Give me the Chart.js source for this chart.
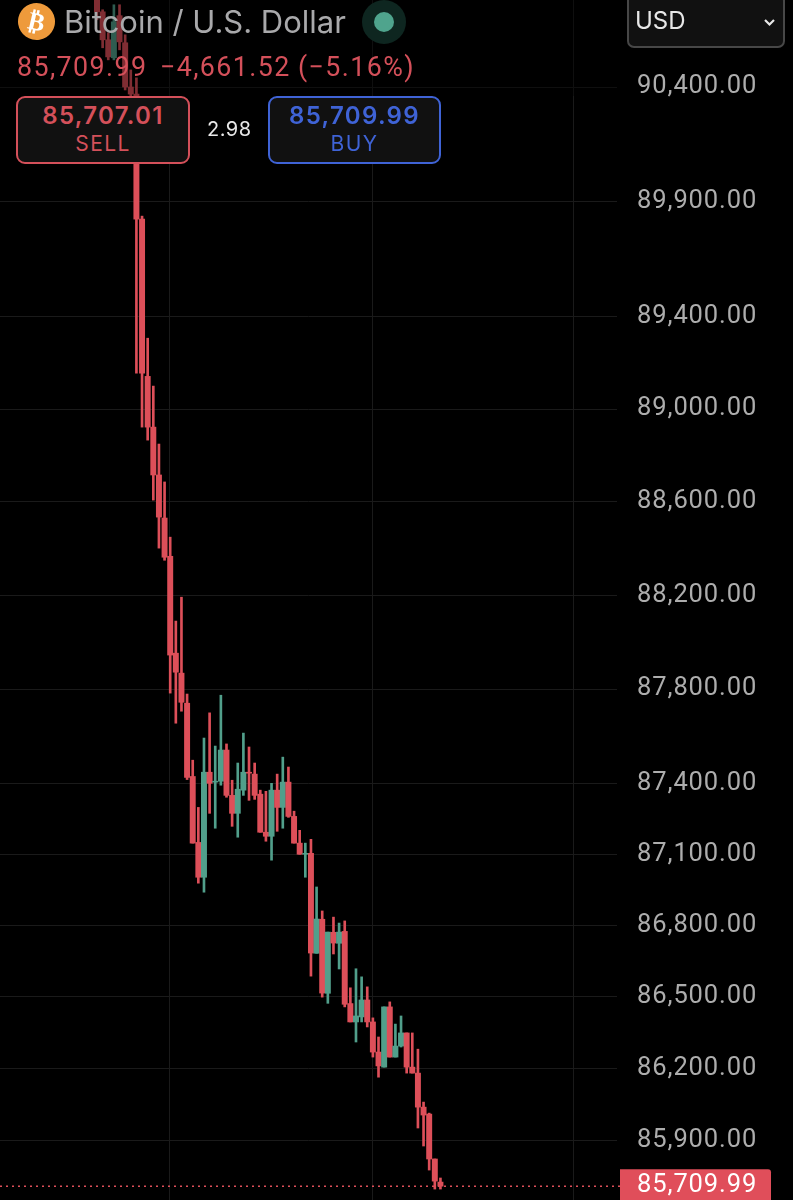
<!DOCTYPE html>
<html>
<head>
<meta charset="utf-8">
<title>Bitcoin / U.S. Dollar</title>
<script src="https://cdn.jsdelivr.net/npm/chart.js@4"></script>
<style>
  html,body{margin:0;padding:0;background:#000;width:793px;height:1200px;overflow:hidden;font-family:Inter,"Noto Sans",sans-serif;}
  #wrap{position:relative;width:793px;height:1200px;overflow:hidden;}
  canvas{position:absolute;left:0;top:0;}
  .abs{position:absolute;white-space:nowrap;}
  #dim{left:0;top:0;width:617px;height:96px;background:rgba(0,0,0,.42);}
  .box{background:#111;border:2px solid;border-radius:9px;box-sizing:border-box;text-align:center;height:68px;top:96px;}
  .box .p{font-size:24px;font-weight:600;line-height:28px;margin-top:4px;letter-spacing:1.3px;}
  .box .s{font-size:21px;line-height:26px;letter-spacing:1.4px;margin-top:1px;}
  .quote{top:52px;font-family:Roboto;font-size:26.8px;line-height:30px;color:#d4505a;letter-spacing:1.4px;}
</style>
</head>
<body>
<div id="wrap">
  <canvas id="c" width="793" height="1200"></canvas>
  <div class="abs" id="dim"></div>
  <div class="abs" style="left:18px;top:3px;width:37px;height:37px;border-radius:50%;background:#ee9a3b;color:#fff;font:bold 25px/37px 'DejaVu Sans';text-align:center;transform:rotate(13deg)">₿</div>
  <div class="abs" style="left:64px;top:3px;font-size:31px;line-height:38px;color:#a9a9ab">Bitcoin / U.S. Dollar</div>
  <div class="abs" style="left:362px;top:0;width:44px;height:44px;border-radius:50%;background:#0e2620"></div>
  <div class="abs" style="left:374px;top:12px;width:20px;height:20px;border-radius:50%;background:#4fa48d"></div>
  <div class="abs quote" style="left:17px">85,709.99</div>
  <div class="abs quote" style="left:160px">−4,661.52</div>
  <div class="abs quote" style="left:298px">(−5.16%)</div>
  <div class="abs box" style="left:16px;width:174px;border-color:#d4505a;color:#d4505a"><div class="p">85,707.01</div><div class="s">SELL</div></div>
  <div class="abs" style="left:207px;top:117px;font-size:20px;line-height:24px;letter-spacing:.5px;color:#e8e8e8">2.98</div>
  <div class="abs box" style="left:268px;width:173px;border-color:#3f63d6;color:#3f63d6"><div class="p">85,709.99</div><div class="s">BUY</div></div>
  <div class="abs" style="left:627px;top:-6px;width:158px;height:54px;box-sizing:border-box;background:#111;border:2px solid #474747;border-radius:7px"></div>
  <div class="abs" style="left:635px;top:7px;font-size:24px;line-height:28px;color:#e8e8e8">USD</div>
  <svg class="abs" style="left:763px;top:18px" width="13" height="9" viewBox="0 0 13 9"><path d="M2 2 L6.5 6.5 L11 2" fill="none" stroke="#e8e8e8" stroke-width="2.2"/></svg>
</div>
<script>
// 5 minute candles, oldest first
const opens = [90783,90730,90607,90528,90713,90594,90400,90369,89823,89141,88922,88716,88531,88367,87953,87868,87740,87429,87150,87003,87447,87405,87409,87541,87349,87273,87371,87447,87439,87354,87193,87176,87371,87298,87405,87260,87147,87100,87104,86683,86826,86515,86771,86725,86775,86472,86395,86416,86487,86395,86269,86206,86458,86248,86294,86349,86206,86181,86039,86010,85823,85727];
const highs = [90783,90739,90638,90761,90761,90629,90475,90440,89836,89306,89099,88849,88686,88449,88090,88192,87779,87498,87298,87592,87699,87558,87774,87567,87413,87486,87613,87554,87486,87371,87366,87400,87439,87511,87469,87282,87201,87147,87163,86962,86861,86772,86835,86810,86819,86538,86618,86584,86542,86412,86332,86458,86479,86386,86420,86349,86349,86281,86060,86014,85823,85744];
const lows = [90695,90572,90519,90519,90563,90387,90361,89155,88922,88866,88608,88402,88350,87783,87655,87706,87416,87147,86978,86940,87273,87210,87392,87341,87218,87172,87349,87328,87332,87193,87155,87075,87197,87210,87256,87147,87100,87003,86587,86683,86499,86473,86680,86617,86458,86395,86311,86395,86374,86248,86164,86206,86248,86248,86290,86181,86181,85952,85877,85777,85698,85698];
const closes = [90730,90607,90532,90686,90598,90400,90369,89823,89155,88922,88716,88535,88363,87945,87872,87744,87425,87147,87003,87447,87400,87409,87541,87349,87273,87375,87447,87443,87349,87193,87176,87371,87298,87405,87260,87147,87100,87104,86684,86827,86516,86772,86726,86772,86469,86395,86420,86487,86395,86269,86211,86458,86248,86294,86349,86206,86181,86039,86006,85823,85731,85709.99];
const priceTicks = [90400,89900,89400,89000,88600,88200,87800,87400,87100,86800,86500,86200,85900];
const timeGrid = [12.8,48.85,84.7];
const lastPrice = 85709.99;

const RED='#dd4f59', GREEN='#519f8b', GRID='#1a1a1a';
const colors = opens.map((o,i)=> closes[i]>=o ? GREEN : RED);
const fmt = v => v.toLocaleString('en-US',{minimumFractionDigits:2,maximumFractionDigits:2});

const lastPriceTag = {
  id:'lastPriceTag',
  // tracking for the axis labels, the app's font is wider than Roboto
  beforeDraw(chart){ chart.ctx.letterSpacing='0.9px'; },
  afterDatasetsDraw(chart){
    const {ctx, scales:{y}} = chart;
    const py = y.getPixelForValue(lastPrice);
    ctx.save();
    ctx.strokeStyle=RED; ctx.lineWidth=1.5; ctx.setLineDash([2,4]);
    ctx.beginPath(); ctx.moveTo(0,py); ctx.lineTo(620,py); ctx.stroke();
    ctx.setLineDash([]);
    ctx.fillStyle='#e04e5a';
    ctx.beginPath(); ctx.roundRect(620,py-17,151,34,[0,3,0,0]); ctx.fill();
    ctx.fillStyle='#fff'; ctx.font='25.5px Roboto'; ctx.textBaseline='middle';
    ctx.fillText(fmt(lastPrice),637,py-1);
    ctx.restore();
  }
};

new Chart(document.getElementById('c'),{
  type:'bar',
  data:{datasets:[
    {label:'wick', data:opens.map((o,i)=>({x:i,y:[lows[i],highs[i]]})), backgroundColor:colors, barThickness:2, grouped:false, order:2},
    {label:'body', data:opens.map((o,i)=>({x:i,y:[Math.min(o,closes[i]),Math.max(o,closes[i])]})), backgroundColor:colors, barThickness:5.3, grouped:false, order:1}
  ]},
  options:{
    responsive:false, animation:false,
    layout:{padding:0},
    plugins:{legend:{display:false},tooltip:{enabled:false}},
    scales:{
      x:{
        type:'linear', min:-17.23, max:92.36, offset:false,
        border:{display:false},
        grid:{color:GRID,lineWidth:1,offset:false,drawTicks:false},
        ticks:{display:false},
        afterBuildTicks:s=>{s.ticks=timeGrid.map(v=>({value:v}));},
        afterFit:s=>{s.height=0;}
      },
      y:{
        type:'logarithmic', position:'right', min:85652.6, max:90782,
        border:{display:false},
        grid:{color:GRID,lineWidth:1,drawTicks:false},
        ticks:{color:'#adadad',font:{family:'Roboto',size:25.5},padding:20,autoSkip:false,maxRotation:0,callback:v=>fmt(v)},
        afterBuildTicks:s=>{s.ticks=priceTicks.map(v=>({value:v}));},
        afterFit:s=>{s.width=176;s.paddingTop=0;s.paddingBottom=0;}
      }
    }
  },
  plugins:[lastPriceTag]
});
</script>
</body>
</html>
